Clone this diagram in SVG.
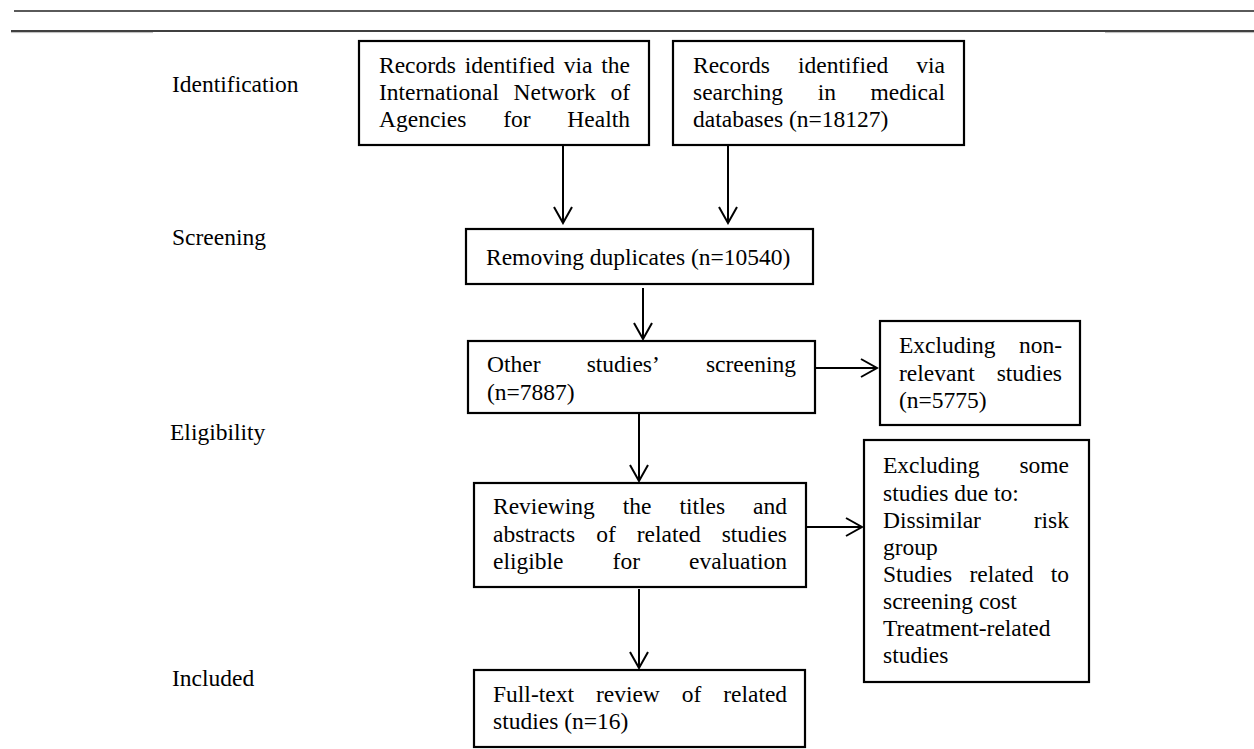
<svg xmlns="http://www.w3.org/2000/svg" width="1254" height="749" viewBox="0 0 1254 749">
<style>
text{font-family:"Liberation Serif","Times New Roman",serif;font-size:23.5px;fill:#000}
.box{fill:#fff;stroke:#000;stroke-width:2.2}
.con{stroke:#000;stroke-width:2;fill:none}
</style>
<defs>
<marker id="arr" markerWidth="20" markerHeight="22" refX="18" refY="11" orient="auto" markerUnits="userSpaceOnUse" viewBox="0 0 20 22">
<path d="M2,2 L18,11 L2,20" fill="none" stroke="#000" stroke-width="2"/>
</marker>
</defs>
<rect width="1254" height="749" fill="#fff"/>
<g id="rules">
<line x1="14" y1="11" x2="1254" y2="11" stroke="#5a5a5a" stroke-width="2.2"/>
<line x1="11" y1="31" x2="1254" y2="31" stroke="#000" stroke-width="1.5"/>
<line x1="11" y1="32.6" x2="153" y2="32.6" stroke="#bbb" stroke-width="1"/>
<line x1="1105" y1="32.6" x2="1254" y2="32.6" stroke="#bbb" stroke-width="1"/>
</g>
<g id="stages">
<text x="172" y="92">Identification</text>
<text x="172" y="245">Screening</text>
<text x="170" y="440">Eligibility</text>
<text x="172" y="686">Included</text>
</g>
<g id="connectors">
<line class="con" x1="563" y1="145" x2="563" y2="223" marker-end="url(#arr)"/>
<line class="con" x1="728" y1="145" x2="728" y2="223" marker-end="url(#arr)"/>
<line class="con" x1="643" y1="288" x2="643" y2="339" marker-end="url(#arr)"/>
<line class="con" x1="815" y1="368" x2="877" y2="368" marker-end="url(#arr)"/>
<line class="con" x1="639" y1="398" x2="639" y2="481" marker-end="url(#arr)"/>
<line class="con" x1="806" y1="527" x2="862" y2="527" marker-end="url(#arr)"/>
<line class="con" x1="639" y1="589" x2="639" y2="668" marker-end="url(#arr)"/>
</g>
<g id="nodeA">
<rect class="box" x="359" y="41" width="290" height="104"/>
<text y="73"><tspan x="379">Records</tspan><tspan x="464.8">identified</tspan><tspan x="563.7">via</tspan><tspan x="601.3">the</tspan></text>
<text y="100"><tspan x="379">International</tspan><tspan x="513.6">Network</tspan><tspan x="610.4">of</tspan></text>
<text y="127"><tspan x="379">Agencies</tspan><tspan x="503.2">for</tspan><tspan x="567.3">Health</tspan></text>
</g>
<g id="nodeB">
<rect class="box" x="673" y="41" width="291" height="104"/>
<text y="73"><tspan x="693">Records</tspan><tspan x="798.1">identified</tspan><tspan x="916.3">via</tspan></text>
<text y="100"><tspan x="693">searching</tspan><tspan x="817.7">in</tspan><tspan x="870.6">medical</tspan></text>
<text x="693" y="127">databases (n=18127)</text>
</g>
<g id="nodeC">
<rect class="box" x="466" y="229" width="347" height="55"/>
<text x="486" y="265">Removing duplicates (n=10540)</text>
</g>
<g id="nodeD">
<rect class="box" x="468" y="341" width="347" height="72"/>
<text y="372"><tspan x="487">Other</tspan><tspan x="586.7">studies’</tspan><tspan x="705.9">screening</tspan></text>
<text x="487" y="400">(n=7887)</text>
</g>
<g id="nodeE">
<rect class="box" x="880" y="321" width="200" height="104"/>
<text y="353"><tspan x="899">Excluding</tspan><tspan x="1018.9">non-</tspan></text>
<text y="380.5"><tspan x="899">relevant</tspan><tspan x="996.7">studies</tspan></text>
<text x="899" y="408">(n=5775)</text>
</g>
<g id="nodeF">
<rect class="box" x="864" y="440" width="225" height="242"/>
<text y="473"><tspan x="883">Excluding</tspan><tspan x="1019.4">some</tspan></text>
<text x="883" y="500.5">studies due to:</text>
<text y="528"><tspan x="883">Dissimilar</tspan><tspan x="1033.7">risk</tspan></text>
<text x="883" y="555">group</text>
<text y="582"><tspan x="883">Studies</tspan><tspan x="969.5">related</tspan><tspan x="1050.7">to</tspan></text>
<text x="883" y="609">screening cost</text>
<text x="883" y="636">Treatment-related</text>
<text x="883" y="663">studies</text>
</g>
<g id="nodeG">
<rect class="box" x="474" y="483" width="332" height="104"/>
<text y="514"><tspan x="493">Reviewing</tspan><tspan x="622.8">the</tspan><tspan x="679.5">titles</tspan><tspan x="753.1">and</tspan></text>
<text y="541.7"><tspan x="493">abstracts</tspan><tspan x="596.2">of</tspan><tspan x="636.8">related</tspan><tspan x="721.7">studies</tspan></text>
<text y="569.3"><tspan x="493">eligible</tspan><tspan x="612.6">for</tspan><tspan x="689.1">evaluation</tspan></text>
</g>
<g id="nodeH">
<rect class="box" x="474" y="670" width="331" height="77"/>
<text y="701.7"><tspan x="493">Full-text</tspan><tspan x="595.9">review</tspan><tspan x="681.7">of</tspan><tspan x="723.2">related</tspan></text>
<text x="493" y="729.3">studies (n=16)</text>
</g>
</svg>
